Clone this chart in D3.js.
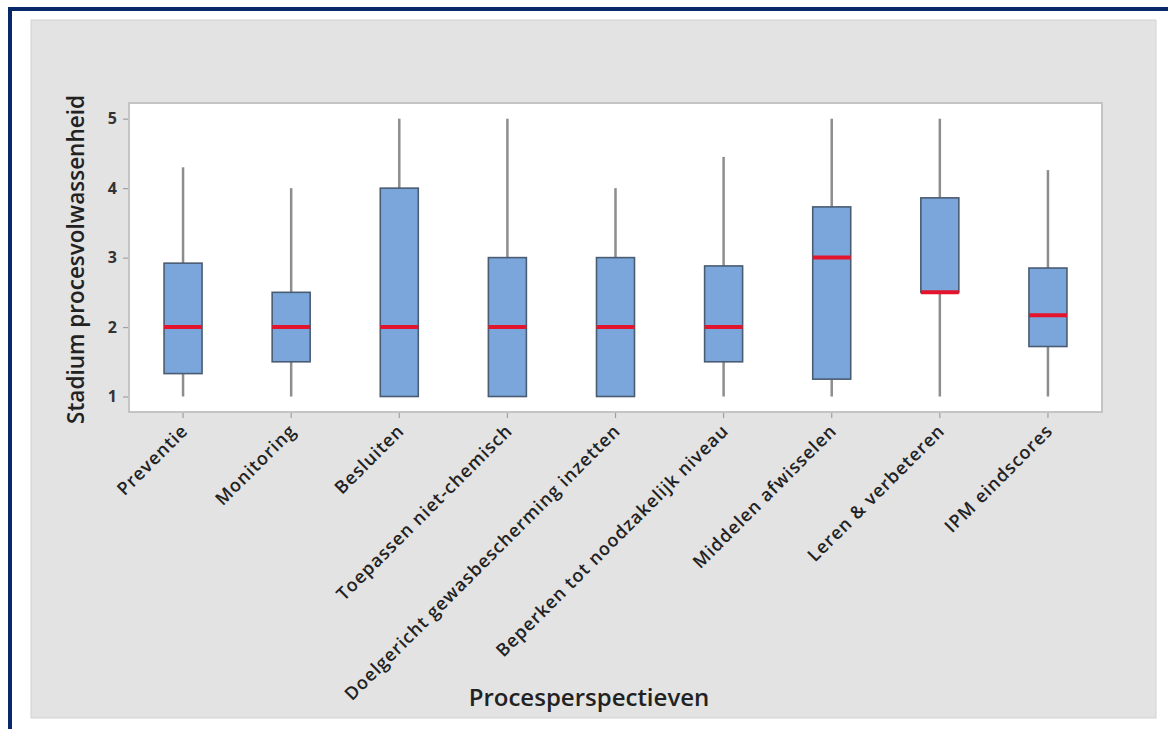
<!DOCTYPE html>
<html>
<head>
<meta charset="utf-8">
<script src="https://cdn.jsdelivr.net/npm/d3@7/dist/d3.min.js"></script>
<style>
  html, body { margin: 0; padding: 0; background: #ffffff; }
  svg { display: block; }
  text { font-family: "Open Sans", "Noto Sans", sans-serif; }
</style>
</head>
<body>
<svg id="chart" width="1168" height="729"></svg>
<script>
// Process perspectives and their box-plot summaries (maturity stage 1–5)
const categories = [
  "Preventie",
  "Monitoring",
  "Besluiten",
  "Toepassen niet-chemisch",
  "Doelgericht gewasbescherming inzetten",
  "Beperken tot noodzakelijk niveau",
  "Middelen afwisselen",
  "Leren & verbeteren",
  "IPM eindscores"
];
const whiskerLow  = [1, 1, 1, 1, 1, 1, 1, 1, 1];
const q1          = [1.33, 1.5, 1, 1, 1, 1.5, 1.25, 2.5, 1.72];
const median      = [2, 2, 2, 2, 2, 2, 3, 2.5, 2.17];
const q3          = [2.92, 2.5, 4, 3, 3, 2.88, 3.73, 3.86, 2.85];
const whiskerHigh = [4.3, 4, 5, 5, 4, 4.45, 5, 5, 4.26];
const yTicks = [1, 2, 3, 4, 5];

const yTitle = "Stadium procesvolwassenheid";
const xTitle = "Procesperspectieven";

const rows = categories.map((c, i) => ({
  cat: c, lo: whiskerLow[i], q1: q1[i], med: median[i], q3: q3[i], hi: whiskerHigh[i]
}));

const svg = d3.select("#chart");

// Page frame (dark blue rule at top and left)
svg.append("rect").attr("x", 8).attr("y", 7).attr("width", 1160).attr("height", 4).attr("fill", "#08286a");
svg.append("rect").attr("x", 8).attr("y", 7).attr("width", 4).attr("height", 722).attr("fill", "#08286a");

// Grey figure panel
svg.append("rect").attr("x", 31).attr("y", 20).attr("width", 1125).attr("height", 698)
  .attr("fill", "#e3e3e3").attr("stroke", "#d2d2d2").attr("stroke-width", 1);

const plot = { left: 129, right: 1102, top: 103, bottom: 412 };

// White plotting area
svg.append("rect")
  .attr("x", plot.left).attr("y", plot.top)
  .attr("width", plot.right - plot.left).attr("height", plot.bottom - plot.top)
  .attr("fill", "#ffffff").attr("stroke", "#c4c4c4").attr("stroke-width", 2);

const x = d3.scaleBand().domain(categories).range([plot.left, plot.right]).padding(0);
const y = d3.scaleLinear().domain([0.777, 5.226]).range([plot.bottom, plot.top]);
const boxW = 38;

// Y axis
const yAxis = svg.append("g")
  .attr("transform", `translate(${plot.left - 1},0)`)
  .call(d3.axisLeft(y).tickValues(yTicks).tickFormat(d3.format("d")).tickSize(5).tickPadding(6));
yAxis.select(".domain").remove();
yAxis.selectAll(".tick line").attr("stroke", "#a0a0a0").attr("stroke-width", 1.2);
yAxis.selectAll(".tick text")
  .attr("fill", "#333").attr("font-size", 16).attr("font-weight", 700);

// X axis
const xAxis = svg.append("g")
  .attr("transform", `translate(0,${plot.bottom + 1})`)
  .call(d3.axisBottom(x).tickSize(5).tickFormat(""));
xAxis.select(".domain").remove();
xAxis.selectAll(".tick line").attr("stroke", "#a0a0a0").attr("stroke-width", 1.2);

// Rotated category labels
svg.append("g").selectAll("text")
  .data(categories)
  .join("text")
  .attr("transform", d => `translate(${x(d) + x.bandwidth() / 2 + 6},${plot.bottom + 20}) rotate(-45)`)
  .attr("text-anchor", "end")
  .attr("fill", "#222")
  .attr("font-size", 18)
  .attr("font-weight", 600)
  .attr("letter-spacing", 0.9)
  .text(d => d);

// Box plots
const g = svg.append("g").selectAll("g")
  .data(rows)
  .join("g")
  .attr("transform", d => `translate(${x(d.cat) + x.bandwidth() / 2},0)`);

// Whiskers
g.append("line")
  .attr("x1", 0).attr("x2", 0)
  .attr("y1", d => y(d.hi)).attr("y2", d => y(d.q3))
  .attr("stroke", "#8d8d8d").attr("stroke-width", 2.5);
g.append("line")
  .attr("x1", 0).attr("x2", 0)
  .attr("y1", d => y(d.q1)).attr("y2", d => y(d.lo))
  .attr("stroke", "#8d8d8d").attr("stroke-width", 2.5);

// Interquartile boxes
g.append("rect")
  .attr("x", -boxW / 2).attr("width", boxW)
  .attr("y", d => y(d.q3)).attr("height", d => y(d.q1) - y(d.q3))
  .attr("fill", "#7aa6dc").attr("stroke", "#4a5c72").attr("stroke-width", 1.6);

// Medians
g.append("line")
  .attr("x1", -boxW / 2).attr("x2", boxW / 2)
  .attr("y1", d => y(d.med)).attr("y2", d => y(d.med))
  .attr("stroke", "#e3142c").attr("stroke-width", 4);

// Axis titles
svg.append("text")
  .attr("transform", `translate(84,${(plot.top + plot.bottom) / 2 + 2}) rotate(-90)`)
  .attr("text-anchor", "middle")
  .attr("fill", "#222").attr("font-size", 22.5).attr("font-weight", 600)
  .text(yTitle);

svg.append("text")
  .attr("x", 589).attr("y", 706)
  .attr("text-anchor", "middle")
  .attr("fill", "#222").attr("font-size", 24).attr("font-weight", 600)
  .text(xTitle);
</script>
</body>
</html>
